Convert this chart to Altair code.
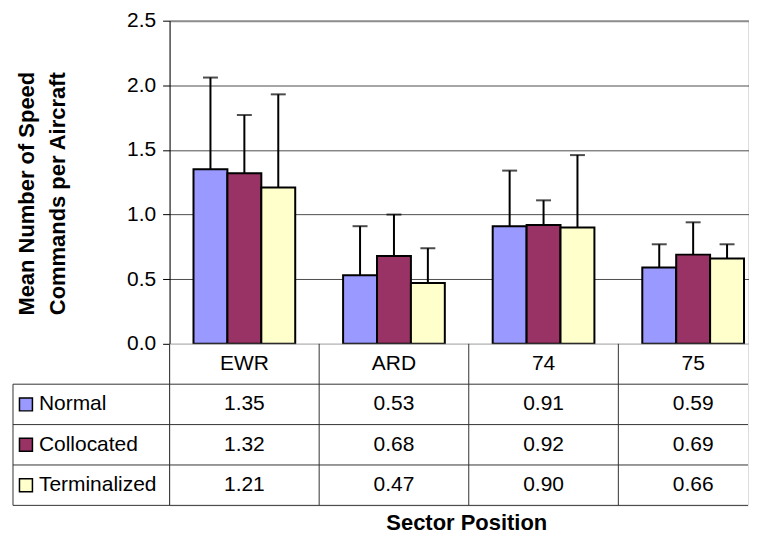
import altair as alt
import pandas as pd

# ---- data ----
sectors = ["EWR", "ARD", "74", "75"]
series = ["Normal", "Collocated", "Terminalized"]
colors = ["#9999FF", "#993366", "#FFFFCC"]
normal = [1.35, 0.53, 0.91, 0.59]
collocated = [1.32, 0.68, 0.92, 0.69]
terminalized = [1.21, 0.47, 0.90, 0.66]
# upper ends of the error bars
normal_hi = [2.06, 0.91, 1.34, 0.77]
collocated_hi = [1.77, 1.00, 1.11, 0.94]
terminalized_hi = [1.93, 0.74, 1.46, 0.77]
y_ticks = [0.0, 0.5, 1.0, 1.5, 2.0, 2.5]
row_names = ["header"] + series
x_title = "Sector Position"
y_title = ["Mean Number of Speed", "Commands per Aircraft"]

rows = []
for s, vals, his in zip(series, [normal, collocated, terminalized],
                        [normal_hi, collocated_hi, terminalized_hi]):
    for sec, v, h in zip(sectors, vals, his):
        rows.append({"sector": sec, "series": s, "value": v, "hi": h,
                     "label": f"{v:.2f}"})
df = pd.DataFrame(rows)
hdr = pd.DataFrame({"sector": sectors, "row": ["header"] * len(sectors)})
ser = pd.DataFrame({"series": series})
ttl = pd.DataFrame({"t": [x_title]})

FONT = "Liberation Sans"
FS = 21
W = 580
H_TOP = 324
H_TAB = 162
BAND = 150
LEFT = -157

xscale = alt.Scale(type="band", domain=sectors, range=[0, BAND * 4],
                   paddingInner=0, paddingOuter=0)
cscale = alt.Scale(domain=series, range=colors)
offscale = alt.Scale(domain=series, paddingInner=0, paddingOuter=0.706)
yscale = alt.Scale(domain=[0, 2.5], nice=False, zero=True)
rowscale = alt.Scale(type="band", domain=row_names, paddingInner=0, paddingOuter=0)

X = alt.X("sector:N", scale=xscale, axis=None, sort=sectors)
XO = alt.XOffset("series:N", scale=offscale, sort=series)

bars = alt.Chart(df).mark_bar(stroke="black", strokeWidth=2).encode(
    x=X,
    xOffset=XO,
    y=alt.Y("value:Q", scale=yscale, axis=alt.Axis(
        values=y_ticks, format=".1f",
        title=y_title,
        titleFontSize=22, titleFontWeight="bold", titleColor="black",
        titlePadding=57, titleLineHeight=31, titleY=173,
        labelFontSize=FS, labelColor="black", labelPadding=7,
        tickSize=7, tickColor="black", domainColor="black",
        gridColor={"condition": {"test": "datum.value >= 2.5", "value": "#8c8c8c"},
                   "value": "#4d4d4d"},
        gridWidth={"condition": {"test": "datum.value >= 2.5", "value": 2},
                   "value": 1})),
    color=alt.Color("series:N", scale=cscale, legend=None),
)
err = alt.Chart(df).mark_rule(color="black", strokeWidth=2).encode(
    x=X, xOffset=XO, y=alt.Y("value:Q", scale=yscale), y2="hi:Q")
caps = alt.Chart(df).mark_tick(color="black", thickness=2, size=15,
                               orient="horizontal").encode(
    x=X, xOffset=XO, y=alt.Y("hi:Q", scale=yscale))

top = alt.layer(err, bars, caps).properties(width=W, height=H_TOP)

# ---- data table ----
vlines = alt.Chart(hdr).mark_rule(color="#333333", strokeWidth=1).encode(
    x=alt.X("sector:N", scale=xscale, sort=sectors, bandPosition=0, axis=None),
    y=alt.value(0), y2=alt.value(H_TAB))
hlines = alt.Chart(ser).mark_rule(color="#333333", strokeWidth=1).encode(
    y=alt.Y("series:N", scale=rowscale, bandPosition=0, axis=None),
    x=alt.value(LEFT), x2=alt.value(W))
bottom_line = alt.Chart(ser).transform_filter(
    alt.datum.series == series[-1]).mark_rule(color="#333333", strokeWidth=1).encode(
    y=alt.Y("series:N", scale=rowscale, bandPosition=1, axis=None),
    x=alt.value(LEFT), x2=alt.value(W))
left_line = alt.Chart(ser).transform_filter(
    alt.datum.series == series[0]).mark_rule(color="#333333", strokeWidth=1).encode(
    y=alt.Y("series:N", scale=rowscale, bandPosition=0, axis=None),
    y2=alt.value(H_TAB), x=alt.value(LEFT))

vals = alt.Chart(df).mark_text(fontSize=FS, font=FONT, color="black").encode(
    x=X, y=alt.Y("series:N", scale=rowscale, axis=None), text="label:N")
heads = alt.Chart(hdr).mark_text(fontSize=FS, font=FONT, color="black").encode(
    x=X, y=alt.Y("row:N", scale=rowscale, axis=None), text="sector:N")

keys = alt.Chart(ser).mark_square(size=169, stroke="black", strokeWidth=1.5,
                                  opacity=1).encode(
    x=alt.value(-144),
    y=alt.Y("series:N", scale=rowscale, axis=None),
    color=alt.Color("series:N", scale=cscale, legend=None))
key_labels = alt.Chart(ser).mark_text(align="left", fontSize=FS, font=FONT,
                                      color="black").encode(
    x=alt.value(-131),
    y=alt.Y("series:N", scale=rowscale, axis=None),
    text="series:N")
xlab = alt.Chart(ttl).mark_text(fontSize=22, fontWeight="bold", font=FONT,
                                color="black").encode(
    x=alt.value(298), y=alt.value(H_TAB + 18), text="t:N")

table = alt.layer(vlines, hlines, bottom_line, left_line, vals, heads, keys,
                  key_labels, xlab).properties(width=W, height=H_TAB)

chart = alt.vconcat(top, table, spacing=0, bounds="flush").resolve_scale(
    x="independent", y="independent").properties(
    padding={"left": 4, "top": 0, "right": 0, "bottom": 0}
).configure_view(stroke=None).configure(font=FONT)

chart.save("out.html", embed_options={"renderer": "svg", "actions": False})
